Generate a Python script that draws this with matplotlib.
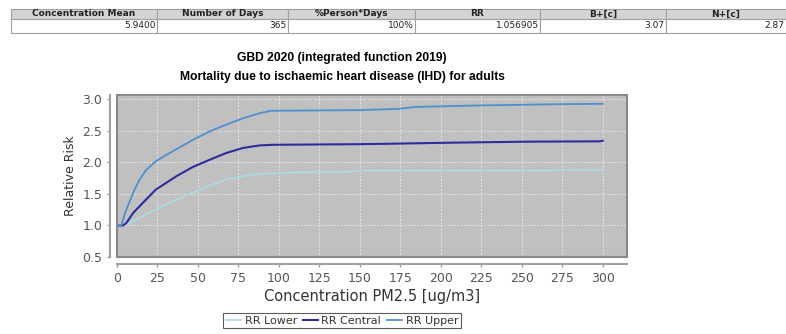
import matplotlib.pyplot as plt
from matplotlib.patches import Rectangle

# summary table
table_cols = ['Concentration Mean', 'Number of Days', '%Person*Days', 'RR', 'B+[c]', 'N+[c]']
table_vals = ['5.9400', '365', '100%', '1.056905', '3.07', '2.87']
col_px = [146, 131, 127, 125, 126, 120]

# concentration-response curves
x_lower = [0.6, 7.8, 16, 26, 36.6, 47, 57, 67.5, 77.8, 88, 108.6, 140, 150, 268, 275, 300]
rr_lower = [1.0, 1.04, 1.15, 1.28, 1.41, 1.52, 1.63, 1.73, 1.78, 1.82, 1.84, 1.85, 1.87, 1.87, 1.88, 1.88]

x_central = [1, 3.7, 5.8, 10, 16, 24, 36.6, 47, 57, 67.5, 77.8, 88, 96, 150, 164, 210, 255, 298, 300]
rr_central = [1.0, 1.0, 1.04, 1.2, 1.36, 1.57, 1.78, 1.93, 2.04, 2.15, 2.23, 2.27, 2.28, 2.29, 2.295,
              2.315, 2.33, 2.335, 2.345]

x_upper = [1, 2.7, 5, 7.8, 10.5, 14, 18, 24, 32.5, 47, 57, 67.5, 77.8, 88, 95, 150, 174, 184, 225, 275, 300]
rr_upper = [1.0, 1.0, 1.2, 1.38, 1.55, 1.73, 1.88, 2.02, 2.15, 2.36, 2.49, 2.6, 2.70, 2.78, 2.82, 2.83,
            2.85, 2.88, 2.905, 2.925, 2.93]

W, H = 786, 334
fig = plt.figure(figsize=(W / 100, H / 100), dpi=100)

# --- table on top ---
tax = fig.add_axes([11 / W, 1 - 33 / H, sum(col_px) / W, 24 / H])
tax.axis('off')
widths = [c / sum(col_px) for c in col_px]
tbl = tax.table(cellText=[table_vals], colLabels=table_cols, colWidths=widths,
                cellLoc='right', bbox=[0, 0, 1, 1])
tbl.auto_set_font_size(False)
for (r, c), cell in tbl.get_celld().items():
    cell.set_edgecolor('#a0a0a0')
    cell.set_linewidth(0.8)
    if r == 0:
        cell.set_facecolor('#d4d4d4')
        cell.get_text().set_ha('center')
        cell.get_text().set_fontweight('bold')
        cell.get_text().set_fontsize(6.5)
        cell.set_height(10)
    else:
        cell.set_facecolor('white')
        cell.get_text().set_fontsize(6.5)
        cell.set_height(14)
    cell.get_text().set_color('#222222')
    cell.PAD = 0.01

# --- chart ---
ax = fig.add_axes([117 / W, 1 - 257 / H, 510 / W, 162 / H])
ax.set_facecolor('#c0c0c0')
ax.plot(x_lower, rr_lower, color='#aadbe6', lw=1.2, label='RR Lower')
ax.plot(x_central, rr_central, color='#2c2c9e', lw=1.5, label='RR Central')
ax.plot(x_upper, rr_upper, color='#4f8fcf', lw=1.3, label='RR Upper')

ax.set_xlim(0, 315)
ax.set_ylim(0.5, 3.07)
ax.set_xticks(range(0, 301, 25))
ax.set_yticks([0.5, 1.0, 1.5, 2.0, 2.5, 3.0])
ax.grid(True, color='#eeeeee', ls='--', lw=0.6, dashes=(2, 2))
ax.set_axisbelow(True)

for s in ['top', 'right']:
    ax.spines[s].set_visible(False)
for s in ['left', 'bottom']:
    ax.spines[s].set_position(('outward', 5))
    ax.spines[s].set_color('#a0a0a0')
    ax.spines[s].set_linewidth(1.5)
ax.add_patch(Rectangle((0, 0), 1, 1, transform=ax.transAxes, fill=False,
                       edgecolor='#8a8a8a', lw=1.5, clip_on=False, zorder=5))
ax.tick_params(colors='#9a9a9a', labelcolor='#555555', labelsize=9, length=2, width=1)

ax.set_ylabel('Relative Risk', fontsize=9, color='#333333', labelpad=4)
ax.set_xlabel('Concentration PM2.5 [ug/m3]', fontsize=10.5, color='#333333', labelpad=3)

fig.text(342 / W, 1 - 58 / H, 'GBD 2020 (integrated function 2019)', ha='center', va='center',
         fontsize=8.7, fontweight='bold', family='Liberation Sans')
fig.text(342 / W, 1 - 77 / H, 'Mortality due to ischaemic heart disease (IHD) for adults',
         ha='center', va='center', fontsize=8.7, fontweight='bold', family='Liberation Sans')

leg = fig.legend(loc='center', bbox_to_anchor=(342 / W, 1 - 320.5 / H), ncol=3, fontsize=8,
                 frameon=True, fancybox=False, handlelength=1.4, handletextpad=0.3,
                 columnspacing=0.5, borderpad=0.25, borderaxespad=0)
leg.get_frame().set_edgecolor('#333333')
leg.get_frame().set_linewidth(0.8)
for t in leg.get_texts():
    t.set_color('#333333')

fig.savefig('out.png', dpi=100)
